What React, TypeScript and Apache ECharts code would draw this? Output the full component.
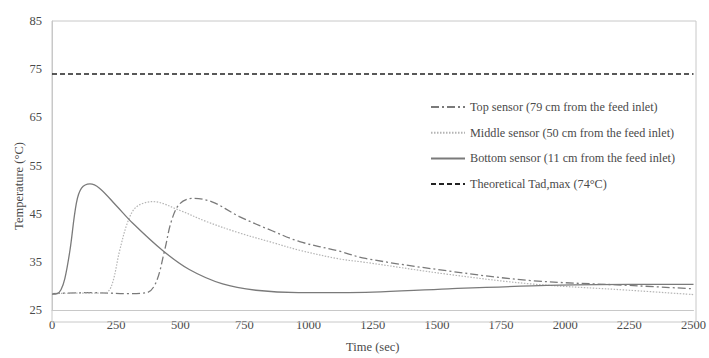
import React, { useEffect, useRef } from "react";
import * as echarts from "echarts";

const bottomTimes = [0, 20, 35, 50, 70, 95, 115, 148, 185, 250, 315, 430, 535, 665, 795, 960, 1120, 1250, 1545, 1870, 2250, 2500];
const bottomTemps = [28.3, 28.4, 29.2, 31.5, 37.4, 47.2, 50.3, 51.2, 50.3, 46.7, 43.0, 37.4, 33.4, 30.4, 29.1, 28.6, 28.6, 28.7, 29.4, 30.0, 30.3, 30.3];

const middleTimes = [0, 100, 205, 232, 264, 296, 329, 393, 497, 600, 730, 860, 965, 1120, 1220, 1545, 1870, 2250, 2500];
const middleTemps = [28.4, 28.5, 28.5, 30.0, 37.4, 43.4, 46.4, 47.5, 45.7, 43.4, 41.0, 39.0, 37.4, 35.6, 34.9, 32.4, 30.4, 29.1, 28.2];

const topTimes = [0, 150, 300, 370, 406, 439, 465, 497, 549, 626, 730, 860, 965, 1120, 1222, 1545, 1870, 2250, 2500];
const topTemps = [28.4, 28.6, 28.4, 28.6, 30.8, 37.4, 43.4, 47.0, 48.2, 47.4, 44.4, 41.4, 39.2, 37.2, 35.7, 33.1, 31.1, 30.1, 29.4];

const tadTimes = [0, 2500];
const tadTemps = [74, 74];

const seriesNames = [
  "Top sensor (79 cm from the feed inlet)",
  "Middle sensor (50 cm from the feed inlet)",
  "Bottom sensor (11 cm from the feed inlet)",
  "Theoretical Tad,max (74°C)",
];

const pairs = (xs: number[], ys: number[]) => xs.map((x, i) => [x, ys[i]]);

const FONT = "'Liberation Serif', 'Times New Roman', serif";
const TEXT = "#4a4a4a";

export default function App() {
  const ref = useRef<HTMLDivElement>(null);
  useEffect(() => {
    if (!ref.current) return;
    const chart = echarts.init(ref.current, undefined, { renderer: "svg", width: 709, height: 358 });
    chart.setOption({
      animation: false,
      backgroundColor: "#ffffff",
      textStyle: { fontFamily: FONT },
      grid: { left: 52, right: 13, top: 21, bottom: 36 },
      legend: {
        orient: "vertical",
        left: 430,
        top: 101,
        padding: 0,
        itemWidth: 34,
        itemHeight: 14,
        itemGap: 13.7,
        itemStyle: { opacity: 0 },
        textStyle: { fontFamily: FONT, fontSize: 12.2, color: TEXT },
        data: seriesNames,
      },
      xAxis: {
        type: "value",
        min: 0,
        max: 2500,
        interval: 250,
        name: "Time (sec)",
        nameLocation: "middle",
        nameGap: 30,
        nameTextStyle: { fontFamily: FONT, fontSize: 12.5, color: TEXT },
        axisLine: { show: true, lineStyle: { color: "#c8c8c8", width: 1 } },
        axisTick: { show: false },
        splitLine: { show: false },
        axisLabel: {
          fontFamily: FONT,
          fontSize: 12.5,
          color: TEXT,
          margin: 8,
          formatter: (v: number) => String(v),
        },
      },
      yAxis: {
        type: "value",
        min: 25,
        max: 85,
        interval: 5,
        axisLine: { show: true, lineStyle: { color: "#c8c8c8", width: 1 } },
        axisTick: { show: false },
        splitLine: { show: false },
        axisLabel: {
          fontFamily: FONT,
          fontSize: 12.5,
          color: TEXT,
          margin: 10,
          formatter: (v: number) => ((v - 25) % 10 === 0 ? String(v) : ""),
        },
      },
      graphic: [
        {
          type: "rect",
          shape: { x: 52, y: 21, width: 644, height: 301 },
          style: { fill: "none", stroke: "#c8c8c8", lineWidth: 1 },
          silent: true,
          z: 1,
        },
        {
          type: "text",
          x: 19,
          y: 186,
          rotation: Math.PI / 2,
          style: {
            text: "Temperature (°C)",
            fontFamily: FONT,
            fontSize: 12.5,
            fill: TEXT,
            align: "center",
            verticalAlign: "middle",
          },
        },
      ],
      series: [
        {
          name: seriesNames[0],
          type: "line",
          data: pairs(topTimes, topTemps),
          smooth: 0.35,
          symbol: "none",
          lineStyle: { color: "#7a7a7a", width: 1.3, type: [8, 3, 2, 3] },
          itemStyle: { color: "#7a7a7a" },
        },
        {
          name: seriesNames[1],
          type: "line",
          data: pairs(middleTimes, middleTemps),
          smooth: 0.35,
          symbol: "none",
          lineStyle: { color: "#b4b4b4", width: 1.2, type: [1.5, 1.5] },
          itemStyle: { color: "#b4b4b4" },
        },
        {
          name: seriesNames[2],
          type: "line",
          data: pairs(bottomTimes, bottomTemps),
          smooth: 0.35,
          symbol: "none",
          lineStyle: { color: "#7a7a7a", width: 1.3, type: "solid" },
          itemStyle: { color: "#7a7a7a" },
        },
        {
          name: seriesNames[3],
          type: "line",
          data: pairs(tadTimes, tadTemps),
          symbol: "none",
          lineStyle: { color: "#222222", width: 1.3, type: [5, 3] },
          itemStyle: { color: "#222222" },
        },
      ],
    });
    return () => chart.dispose();
  }, []);
  return (
    <div
      ref={ref}
      style={{ position: "absolute", left: 0, top: 0, width: 709, height: 358 }}
    />
  );
}
